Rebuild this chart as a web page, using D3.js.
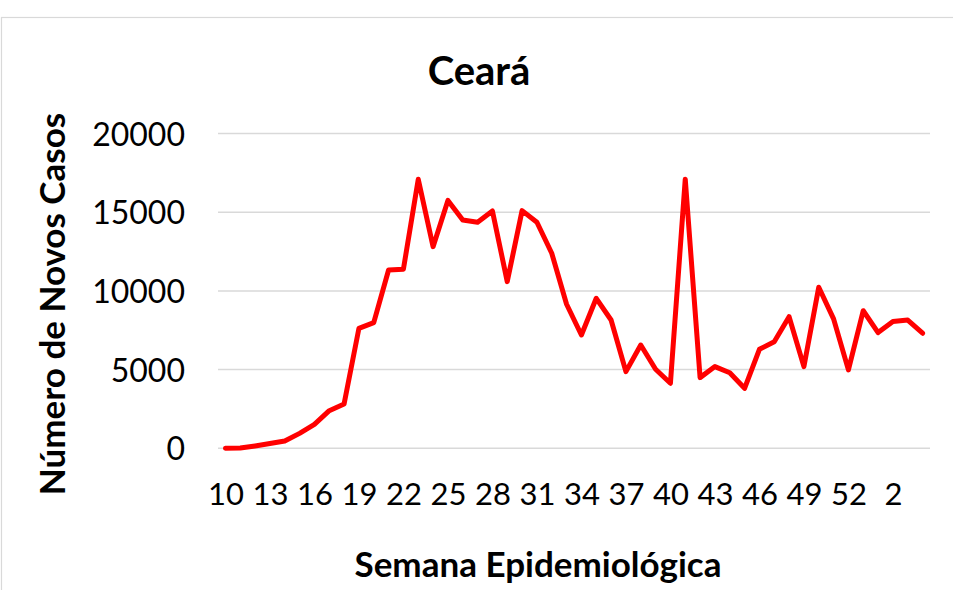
<!DOCTYPE html>
<html>
<head>
<meta charset="utf-8">
<script src="https://cdn.jsdelivr.net/npm/d3@7"></script>
<style>
  body { margin: 0; background: #fff; }
  svg text { font-family: Lato, "Open Sans", sans-serif; fill: #000; }
</style>
</head>
<body>
<div id="chart"></div>
<script>
// Epidemiological weeks (2020: 10..53, then 2021: 1..4)
const weeks = [10, 11, 12, 13, 14, 15, 16, 17, 18, 19, 20, 21, 22, 23, 24, 25, 26, 27, 28, 29,
    30, 31, 32, 33, 34, 35, 36, 37, 38, 39, 40, 41, 42, 43, 44, 45, 46, 47, 48, 49,
    50, 51, 52, 53, 1, 2, 3, 4];

// New cases per week
const newCases = [0, 20, 150, 300, 460, 950, 1520, 2390, 2810, 7620, 7980, 11330, 11380, 17090, 12810, 15750,
    14500, 14360, 15080, 10590, 15100, 14360, 12390, 9150, 7200, 9530, 8150, 4870, 6560, 5020,
    4130, 17090, 4490, 5190, 4800, 3810, 6290, 6770, 8360, 5190, 10230, 8220, 4980, 8740,
    7350, 8050, 8150, 7310];

const yTicks = [0, 5000, 10000, 15000, 20000];

const width = 953, height = 590;
const margin = {top: 133.5, right: 23, bottom: 141.7, left: 218};

const svg = d3.select('#chart')
    .append('svg')
    .attr('width', width)
    .attr('height', height);

// Chart frame
svg.append('rect')
    .attr('x', 1.5)
    .attr('y', 17.5)
    .attr('width', 970)
    .attr('height', 600)
    .attr('fill', '#fff')
    .attr('stroke', '#d9d9d9')
    .attr('stroke-width', 1.2);

const keys = weeks.map((w, i) => i);

const x = d3.scalePoint()
    .domain(keys)
    .range([margin.left, width - margin.right])
    .padding(0.5);

const y = d3.scaleLinear()
    .domain([0, 20000])
    .range([height - margin.bottom, margin.top]);

// Grid lines
svg.append('g')
    .selectAll('line')
    .data(yTicks)
    .enter()
    .append('line')
    .attr('x1', margin.left)
    .attr('x2', width - margin.right)
    .attr('y1', d => y(d))
    .attr('y2', d => y(d))
    .attr('stroke', '#d9d9d9')
    .attr('stroke-width', 1.5);

// Y axis labels
svg.append('g')
    .attr('transform', `translate(${margin.left - 33},0)`)
    .call(d3.axisLeft(y).tickValues(yTicks).tickFormat(d3.format('d')).tickSize(0).tickPadding(0))
    .call(g => g.select('.domain').remove())
    .call(g => g.selectAll('text')
        .attr('font-size', '32px')
        .attr('font-family', 'Lato, sans-serif')
        .attr('fill', '#000')
        .attr('dy', '0.36em'));

// X axis labels, every third week
svg.append('g')
    .attr('transform', `translate(0,${y(0) + 46})`)
    .call(d3.axisBottom(x)
        .tickValues(keys.filter(i => i % 3 === 0))
        .tickFormat(i => weeks[i])
        .tickSize(0)
        .tickPadding(0))
    .call(g => g.select('.domain').remove())
    .call(g => g.selectAll('text')
        .attr('font-size', '31px')
        .attr('font-family', 'Lato, sans-serif')
        .attr('fill', '#000')
        .attr('dy', '0.36em'));

// Line
const line = d3.line()
    .x((d, i) => x(i))
    .y(d => y(d));

svg.append('path')
    .datum(newCases)
    .attr('fill', 'none')
    .attr('stroke', '#ff0000')
    .attr('stroke-width', 5)
    .attr('stroke-linejoin', 'round')
    .attr('stroke-linecap', 'round')
    .attr('d', line);

// Title
svg.append('text')
    .attr('x', 479)
    .attr('y', 85)
    .attr('text-anchor', 'middle')
    .attr('font-size', '40px')
    .attr('font-weight', 'bold')
    .text('Ceará');

// X title
svg.append('text')
    .attr('x', 538)
    .attr('y', 577)
    .attr('text-anchor', 'middle')
    .attr('font-size', '35px')
    .attr('font-weight', 'bold')
    .text('Semana Epidemiológica');

// Y title
svg.append('text')
    .attr('transform', 'translate(65,304) rotate(-90)')
    .attr('text-anchor', 'middle')
    .attr('font-size', '35px')
    .attr('font-weight', 'bold')
    .text('Número de Novos Casos');
</script>
</body>
</html>
